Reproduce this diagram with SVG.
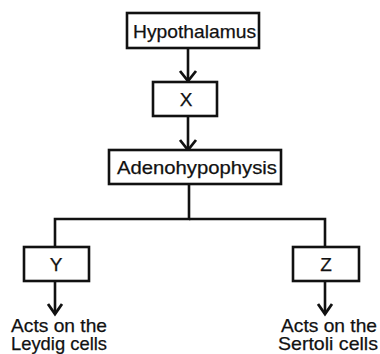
<svg xmlns="http://www.w3.org/2000/svg" width="380" height="354" viewBox="0 0 380 354">
<defs>
<style>
.box{fill:#fff;stroke:#111;stroke-width:2.6}
.t{font-family:"Liberation Sans",Arial,sans-serif;font-size:19px;fill:#111;stroke:#111;stroke-width:0.25}
.c{text-anchor:middle}
.ln{fill:none;stroke:#111;stroke-width:2.6}
.hd{fill:none;stroke:#111;stroke-width:2.8;stroke-linejoin:miter}
</style>
</defs>
<rect width="380" height="354" fill="#fff"/>
<g id="connectors">
<line class="ln" x1="188" y1="48" x2="188" y2="81"/>
<polyline class="hd" points="180,71 188,81 196,71"/>
<line class="ln" x1="188" y1="116" x2="188" y2="150"/>
<polyline class="hd" points="180,140 188,150 196,140"/>
<polyline class="ln" points="189,184 189,219 55,219 55,247"/>
<polyline class="ln" points="189,219 325,219 325,247"/>
<line class="ln" x1="55" y1="281" x2="55" y2="314"/>
<polyline class="hd" points="48,304 55,314 62,304"/>
<line class="ln" x1="325" y1="281" x2="325" y2="314"/>
<polyline class="hd" points="318,304 325,314 332,304"/>
</g>
<g id="hypothalamus">
<rect class="box" x="127" y="13" width="132" height="35"/>
<text class="t" x="133" y="38" textLength="123" lengthAdjust="spacingAndGlyphs">Hypothalamus</text>
</g>
<g id="x">
<rect class="box" x="153" y="82" width="64" height="34"/>
<text class="t c" x="186" y="106">X</text>
</g>
<g id="adenohypophysis">
<rect class="box" x="109" y="150" width="172" height="34"/>
<text class="t" x="117" y="174" textLength="160" lengthAdjust="spacingAndGlyphs">Adenohypophysis</text>
</g>
<g id="y">
<rect class="box" x="24" y="247" width="65" height="34"/>
<text class="t c" x="56" y="271">Y</text>
</g>
<g id="z">
<rect class="box" x="293" y="247" width="66" height="34"/>
<text class="t c" x="326" y="271">Z</text>
</g>
<g id="leydig">
<text class="t" x="11" y="332" textLength="96" lengthAdjust="spacingAndGlyphs">Acts on the</text>
<text class="t" x="11" y="350" textLength="96" lengthAdjust="spacingAndGlyphs">Leydig cells</text>
</g>
<g id="sertoli">
<text class="t" x="281" y="332" textLength="96" lengthAdjust="spacingAndGlyphs">Acts on the</text>
<text class="t" x="278" y="350" textLength="100" lengthAdjust="spacingAndGlyphs">Sertoli cells</text>
</g>
</svg>
